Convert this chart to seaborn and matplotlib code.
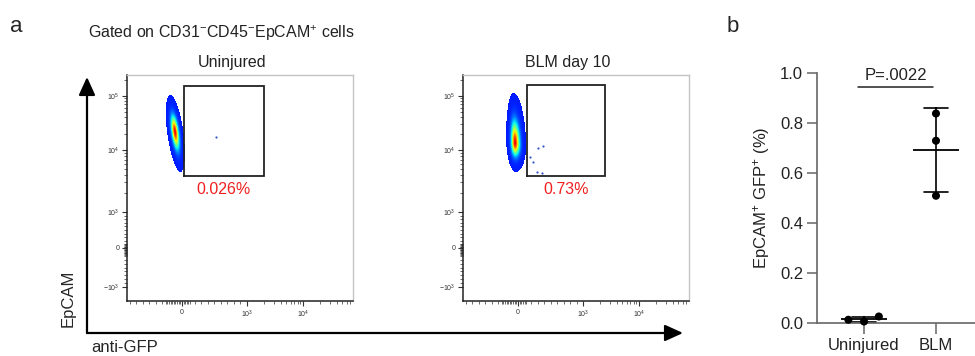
import numpy as np
import pandas as pd
import matplotlib
matplotlib.use("Agg")
import matplotlib.pyplot as plt
from matplotlib.patches import FancyArrowPatch
import seaborn as sns

# ---- panel a : anti-GFP vs EpCAM flow plots ----
flow_titles = ["Uninjured", "BLM day 10"]
gate_pct = ["0.026%", "0.73%"]
gate_gfp = [(31, 2010), (138, 2470)]
gate_epcam = [(3810, 153000), (3810, 160000)]
cluster_gfp = [-108, -46]                 # centre of the EpCAM+ population
cluster_epcam = [22000, 13500]
cluster_gfp_range = [(-230, 20), (-180, 125)]
cluster_epcam_range = [(4400, 104000), (4400, 114000)]
cluster_tilt = [-0.13, -0.03]
stray_gfp = [[523], [185, 308, 385, 231, 292, 369]]
stray_epcam = [[17400], [7700, 10900, 11900, 6400, 4400, 4300]]

gfp_ticks = [0, 1e3, 1e4]
gfp_ticklabels = ["0", "$10^3$", "$10^4$"]
epcam_ticks = [-1e3, 0, 1e3, 1e4, 1e5]
epcam_ticklabels = ["$-10^3$", "0", "$10^3$", "$10^4$", "$10^5$"]

# ---- panel b ----
groups = ["Uninjured", "BLM"]
uninjured_pct = [0.006, 0.026, 0.013]
blm_pct = [0.838, 0.729, 0.509]
p_label = "P=.0022"

# biexponential-like display scale (linear around 0, log beyond 10^3)
GFP_AXIS = ([-846, 0, 1e3, 1e4, 78200], [0, 55, 120, 176, 226])
EPCAM_AXIS = ([-2290, -1e3, 0, 1e3, 1e4, 1e5, 245000], [0, 14, 53, 89, 151, 205, 226])


def biex(v):
    v = np.asarray(v, dtype=float)
    a = np.maximum(np.abs(v), 1e-12)
    return np.where(a <= 1000, v, np.sign(v) * 1000 * (1 + np.log10(a / 1000)))


def biex_inv(g):
    g = np.asarray(g, dtype=float)
    a = np.abs(g)
    return np.where(a <= 1000, g, np.sign(g) * 1000 * 10 ** (a / 1000 - 1))


def make_scale(vals, px):
    gv = biex(vals)
    px = np.asarray(px, dtype=float)
    fwd = lambda v: np.interp(biex(v), gv, px)
    inv = lambda p: biex_inv(np.interp(p, px, gv))
    return fwd, inv


fx, fx_inv = make_scale(*GFP_AXIS)
fy, fy_inv = make_scale(*EPCAM_AXIS)

sns.set_theme(style="ticks")
plt.rcParams["font.family"] = ["Liberation Sans", "DejaVu Sans"]
plt.rcParams["mathtext.fontset"] = "custom"
plt.rcParams["mathtext.rm"] = "Liberation Sans"
plt.rcParams["mathtext.it"] = "Liberation Sans:italic"
plt.rcParams["mathtext.bf"] = "Liberation Sans:bold"

W, H = 975, 356
fig = plt.figure(figsize=(W / 100, H / 100), dpi=100)


def px_axes(x0, y0, x1, y1):
    return fig.add_axes([x0 / W, 1 - y1 / H, (x1 - x0) / W, (y1 - y0) / H])


edges = np.arange(0, 227, 1.0)
centers = edges[:-1] + 0.5
PX, PY = np.meshgrid(centers, centers)

for i in range(2):
    ax = px_axes(127 + i * 336, 75, 353 + i * 336, 301)
    ax.set_xscale("function", functions=(fx, fx_inv))
    ax.set_yscale("function", functions=(fy, fy_inv))
    ax.set_xlim(GFP_AXIS[0][0], GFP_AXIS[0][-1])
    ax.set_ylim(EPCAM_AXIS[0][0], EPCAM_AXIS[0][-1])

    # density of the main population, pseudocolour like the cytometer software
    cx, cy = fx(cluster_gfp[i]), fy(cluster_epcam[i])
    xlo, xhi = fx(cluster_gfp_range[i][0]), fx(cluster_gfp_range[i][1])
    ylo, yhi = fy(cluster_epcam_range[i][0]), fy(cluster_epcam_range[i][1])
    dy = PY - cy
    sy = np.where(dy > 0, (yhi - cy) / 2.6, (cy - ylo) / 2.6)
    dx = PX - cx - cluster_tilt[i] * dy
    sx = np.where(dx > 0, (xhi - cx) / 2.6, (cx - xlo) / 2.6)
    dens = np.exp(-0.5 * ((dx / sx) ** 2 + (dy / sy) ** 2))
    dens = np.ma.masked_less(dens, 0.034) ** 2.2
    ax.pcolormesh(fx_inv(edges), fy_inv(edges), dens, cmap="jet",
                  vmin=-0.2, vmax=1.12, shading="flat", rasterized=True)
    ax.scatter(stray_gfp[i], stray_epcam[i], s=2.5, color="#3355cc", linewidths=0)

    # gate
    gx0, gx1 = gate_gfp[i]
    gy0, gy1 = gate_epcam[i]
    ax.plot([gx0, gx1, gx1, gx0, gx0], [gy0, gy0, gy1, gy1, gy0],
            color="#222222", lw=1.3, solid_joinstyle="miter")
    gxc = fx_inv((fx(gx0) + fx(gx1)) / 2)
    ax.annotate(gate_pct[i], xy=(gxc, gy0), xytext=(0, -4.5), textcoords="offset points",
                ha="center", va="top", color="#f02020", fontsize=11.5)
    ax.text(0.465, 1.035, flow_titles[i], transform=ax.transAxes,
            ha="center", va="baseline", fontsize=11.5, color="#222222")

    ax.set_xticks(gfp_ticks, gfp_ticklabels)
    ax.set_yticks(epcam_ticks, epcam_ticklabels)
    xminor = list(range(-800, -250, 100)) + list(range(-250, 150, 25)) + \
        list(range(200, 1000, 100)) + [k * 1e3 for k in range(2, 10)] + \
        [k * 1e4 for k in range(2, 8)]
    yminor = list(range(-900, -200, 100)) + list(range(-200, 125, 20)) + \
        list(range(200, 1000, 100)) + [k * 1e3 for k in range(2, 10)] + \
        [k * 1e4 for k in range(2, 10)] + [2e5]
    ax.set_xticks(xminor, minor=True)
    ax.set_yticks(yminor, minor=True)
    ax.tick_params(which="major", length=3.5, width=0.8, labelsize=5, pad=2,
                   colors="#333333")
    ax.tick_params(which="minor", length=2, width=0.5, colors="#333333")
    for s in ["top", "right"]:
        ax.spines[s].set_color("#c4c4c4")
        ax.spines[s].set_linewidth(1.0)
    for s in ["left", "bottom"]:
        ax.spines[s].set_color("#222222")
        ax.spines[s].set_linewidth(1.1)

# big axis arrows of panel a
for end in [(87, 77), (683, 333)]:
    arr = FancyArrowPatch((87 / W, 1 - 333 / H), (end[0] / W, 1 - end[1] / H),
                          transform=fig.transFigure, arrowstyle="-|>,head_length=0.55,head_width=0.25",
                          mutation_scale=20, lw=1.6, color="black", shrinkA=0, shrinkB=0)
    fig.add_artist(arr)

fig.text(68 / W, 1 - 298 / H, "EpCAM", rotation=90, ha="center", va="center", fontsize=12)
fig.text(125 / W, 1 - 347 / H, "anti-GFP", ha="center", va="center", fontsize=12)
fig.text(88 / W, 1 - 38 / H, r"Gated on CD31$^{-}$CD45$^{-}$EpCAM$^{+}$ cells",
         ha="left", va="baseline", fontsize=11.5, color="#222222")
fig.text(10 / W, 1 - 32 / H, "a", ha="left", va="baseline", fontsize=16)
fig.text(727 / W, 1 - 32 / H, "b", ha="left", va="baseline", fontsize=16)

# ---- panel b ----
axb = px_axes(817, 73, 975, 323)
df = pd.DataFrame({
    "group": [groups[0]] * len(uninjured_pct) + [groups[1]] * len(blm_pct),
    "pct": uninjured_pct + blm_pct,
})
sns.pointplot(data=df, x="group", y="pct", order=groups, errorbar="sd", capsize=0.33,
              markers="_", linestyles="none", color="black", markersize=33,
              markeredgewidth=1.3, err_kws={"linewidth": 1.2}, ax=axb)
sns.swarmplot(data=df, x="group", y="pct", order=groups, color="black", size=5.8,
              linewidth=5, edgecolor="none", zorder=4, ax=axb)
axb.set_ylim(0, 1)
axb.set_xlim(-0.653, 1.542)
axb.set_yticks(np.arange(0, 1.01, 0.2), [f"{v:.1f}" for v in np.arange(0, 1.01, 0.2)])
axb.set_xlabel("")
axb.set_ylabel(r"EpCAM$^{+}$ GFP$^{+}$ (%)", fontsize=12, color="#222222")
axb.yaxis.set_label_coords((772 - 817) / 158, 0.5)
for art in axb.collections + axb.lines:
    art.set_clip_on(False)
axb.plot([-0.08, 0.96], [0.943, 0.943], color="#222222", lw=1.1, clip_on=False)
axb.text(0.44, 0.972, p_label, ha="center", va="baseline", fontsize=12, color="#222222")
sns.despine(ax=axb)
for s in ["left", "bottom"]:
    axb.spines[s].set_color("#666666")
    axb.spines[s].set_linewidth(1.2)
axb.tick_params(axis="y", length=7, width=1.1, color="#666666", labelsize=12, pad=3,
                labelcolor="#222222")
axb.tick_params(axis="x", length=8, width=1.1, color="#666666", labelsize=12, pad=3,
                labelcolor="#222222")

fig.savefig("out.png", dpi=100)
